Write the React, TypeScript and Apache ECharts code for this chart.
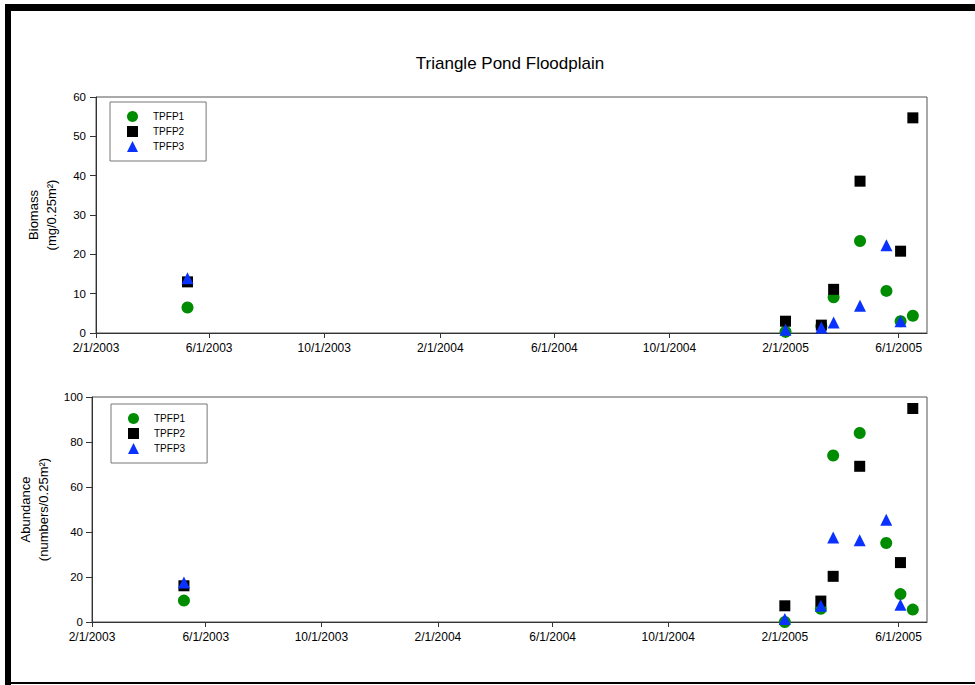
import React, { useEffect, useRef } from "react";
import * as echarts from "echarts";

// ---- data ----
const sampleDates = [
  "2003-05-09",
  "2005-02-01",
  "2005-03-11",
  "2005-03-24",
  "2005-04-21",
  "2005-05-19",
  "2005-06-03",
  "2005-06-16",
];
const seriesNames = ["TPFP1", "TPFP2", "TPFP3"];
const biomassTPFP1 = [6.5, 0.3, 1.8, 9.1, 23.4, 10.7, 3.0, 4.4];
const biomassTPFP2 = [13.0, 3.0, 2.0, 11.1, 38.6, null, 20.8, 54.7];
const biomassTPFP3 = [13.9, 0.8, 1.4, 2.7, 6.9, 22.3, 3.0, null];
const abundanceTPFP1 = [9.5, 0, 5.9, 74, 84, 35.1, 12.4, 5.5];
const abundanceTPFP2 = [16.1, 7.2, 9.3, 20.3, 69.2, null, 26.4, 94.9];
const abundanceTPFP3 = [17.6, 1.3, 7.2, 37.6, 36.3, 45.5, 7.7, null];
const xTickDates = [
  "2003-02-01",
  "2003-06-01",
  "2003-10-01",
  "2004-02-01",
  "2004-06-01",
  "2004-10-01",
  "2005-02-01",
  "2005-06-01",
];
const xMinDate = "2003-02-01";
const xMaxDate = "2005-07-01";

const FONT = "Liberation Sans, Arial, Helvetica, sans-serif";
const COLORS = ["#008c00", "#000000", "#0a32ff"];
const SYMBOLS = ["circle", "rect", "triangle"];
const SIZES = [12, 11, 12];

const ts = (d: string) => {
  const [y, m, dd] = d.split("-").map(Number);
  return Date.UTC(y, m - 1, dd);
};
const fmt = (v: number) => {
  const d = new Date(v);
  return `${d.getUTCMonth() + 1}/${d.getUTCDate()}/${d.getUTCFullYear()}`;
};
const toPoints = (vals: (number | null)[]) =>
  sampleDates
    .map((d, i) => (vals[i] == null ? null : [ts(d), vals[i] as number]))
    .filter((p) => p !== null);

export default function App() {
  const ref = useRef<HTMLDivElement>(null);
  useEffect(() => {
    if (!ref.current) return;
    const chart = echarts.init(ref.current, undefined, { renderer: "svg" });
    const tickVals = xTickDates.map(ts);
    const xAxisBase = (gridIndex: number) => ({
      type: "value",
      gridIndex,
      min: ts(xMinDate),
      max: ts(xMaxDate),
      axisLine: { show: true, lineStyle: { color: "#333", width: 1 } },
      axisTick: { show: true, customValues: tickVals, length: 5, lineStyle: { color: "#333" } },
      axisLabel: {
        customValues: tickVals,
        formatter: (v: number) => fmt(v),
        fontSize: 12,
        color: "#000",
        fontFamily: FONT,
        margin: 9,
      },
      splitLine: { show: false },
    });
    const yAxisBase = (gridIndex: number, max: number, interval: number, name: string, gap: number, margin: number) => ({
      type: "value",
      gridIndex,
      min: 0,
      max,
      interval,
      name,
      nameLocation: "middle",
      nameRotate: 90,
      nameGap: gap,
      nameTextStyle: { fontSize: 13, color: "#000", fontFamily: FONT, lineHeight: 18 },
      axisLine: { show: true, lineStyle: { color: "#333", width: 1 } },
      axisTick: { show: true, length: 6, lineStyle: { color: "#333" } },
      axisLabel: { fontSize: 11.5, color: "#000", fontFamily: FONT, margin },
      splitLine: { show: false },
    });
    const legendBase = (top: number, left: number) => ({
      orient: "vertical",
      left,
      top,
      itemWidth: 11,
      itemHeight: 11,
      itemGap: 4,
      padding: [9, 22, 9, 17],
      borderColor: "#777",
      borderWidth: 1,
      backgroundColor: "#fff",
      textStyle: { fontSize: 10, color: "#000", fontFamily: FONT, padding: [0, 0, 0, 10] },
      data: seriesNames,
    });
    const biomass = [biomassTPFP1, biomassTPFP2, biomassTPFP3];
    const abundance = [abundanceTPFP1, abundanceTPFP2, abundanceTPFP3];
    const series: any[] = [];
    [biomass, abundance].forEach((set, gi) => {
      set.forEach((vals, si) => {
        series.push({
          type: "scatter",
          name: seriesNames[si],
          xAxisIndex: gi,
          yAxisIndex: gi,
          symbol: SYMBOLS[si],
          symbolSize: SIZES[si],
          itemStyle: { color: COLORS[si], opacity: 1 },
          data: toPoints(vals),
        });
      });
    });
    chart.setOption({
      animation: false,
      backgroundColor: "#fff",
      title: {
        text: "Triangle Pond Floodplain",
        left: 505,
        top: 50,
        textAlign: "center",
        textStyle: { fontSize: 17, fontWeight: "normal", color: "#000", fontFamily: FONT },
      },
      grid: [
        { left: 96, right: 48, top: 97, height: 236, show: true, borderColor: "#555", borderWidth: 1, backgroundColor: "transparent" },
        { left: 92, right: 48, top: 397, height: 225, show: true, borderColor: "#555", borderWidth: 1, backgroundColor: "transparent" },
      ],
      legend: [legendBase(102, 110), legendBase(404, 111)],
      xAxis: [xAxisBase(0), xAxisBase(1)],
      yAxis: [
        yAxisBase(0, 60, 10, "Biomass\n(mg/0.25m²)", 36, 10),
        yAxisBase(1, 100, 20, "Abundance\n(numbers/0.25m²)", 38, 9),
      ],
      graphic: [
        { type: "rect", shape: { x: 5, y: 4, width: 970, height: 7 }, style: { fill: "#000" } },
        { type: "rect", shape: { x: 5, y: 4, width: 6, height: 681 }, style: { fill: "#000" } },
        { type: "rect", shape: { x: 5, y: 682, width: 970, height: 2 }, style: { fill: "#000" } },
      ],
      series,
    } as any);
    return () => chart.dispose();
  }, []);
  return (
    <div
      ref={ref}
      style={{ position: "fixed", left: 0, top: 0, width: 975, height: 685, background: "#fff" }}
    />
  );
}
